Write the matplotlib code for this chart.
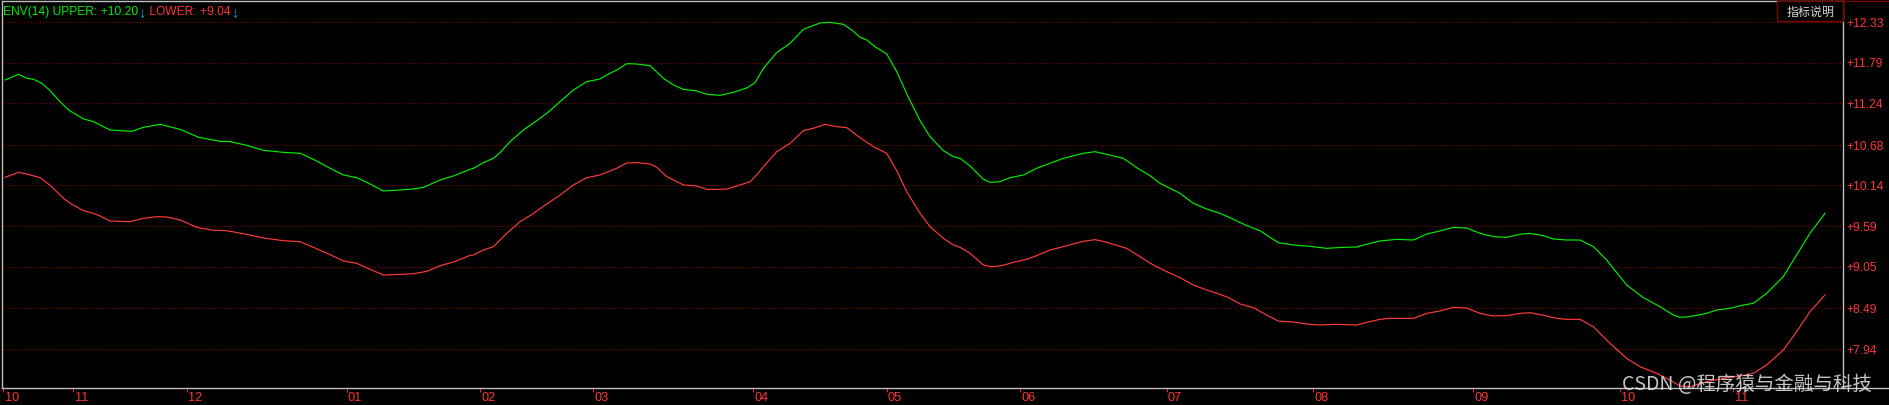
import matplotlib
matplotlib.use("Agg")
import matplotlib.pyplot as plt
from matplotlib.lines import Line2D
from matplotlib.patches import Rectangle
from matplotlib import font_manager
import matplotlib.transforms as mtransforms

# ---------------- data ----------------
upper_days = [0.75, 2.75, 4, 5, 6.25, 7.5, 8.75, 10.25, 12.5, 14, 15, 16.5, 19.75, 21.5, 24, 27,
              29.75, 33, 34.5, 37, 39.5, 42.5, 45, 47, 49.5, 51.5, 53.5, 55.5, 57.5, 60, 62, 63.5,
              66, 68, 70.5,
              71, 72.5, 74, 75, 76.5, 78.5, 80.5, 82, 84, 86, 88, 90, 91, 92.5, 94, 95.5, 97.5,
              99.5, 101, 102.5, 104.5, 106, 108, 110, 112, 113.25, 114.5, 116.5, 118.5, 120.5,
              123, 124.5, 126.5, 127.75, 129, 130, 131.25, 133, 134.5, 136.25, 138, 139.5,
              141.5, 143, 144, 145.5, 147.5, 148.5, 150, 151.5, 153.5, 155.5, 157.5, 159.5, 162.5,
              164.25, 166, 168.5, 170.5, 172.5, 174, 177, 179, 181, 183, 185, 187, 189, 191.75,
              194, 196.5, 199, 201.5, 203.5, 205.5, 207, 208.5,
              209.5, 212, 214, 216, 218, 220, 222, 224, 226, 228, 229.5, 231.5, 233, 235, 237,
              239, 241, 243, 244, 246.5, 249, 251, 252, 253.5, 256, 257.5, 259.5, 261.5, 263,
              265, 267.5, 269.5, 271.5, 273.75]
upper_vals = [11.556, 11.632, 11.578, 11.565, 11.511, 11.412, 11.287, 11.153, 11.032, 10.996,
              10.951, 10.884, 10.866, 10.920, 10.960, 10.893, 10.786, 10.732, 10.728, 10.678,
              10.611, 10.584, 10.571, 10.490, 10.370, 10.280, 10.244, 10.159, 10.065, 10.079,
              10.092, 10.114, 10.213, 10.267, 10.356,
              10.370, 10.446, 10.504, 10.580, 10.728, 10.884, 11.010, 11.108, 11.265, 11.421,
              11.533, 11.569, 11.623, 11.690, 11.775, 11.770, 11.748, 11.578, 11.489, 11.430,
              11.408, 11.363, 11.350, 11.390, 11.448, 11.520, 11.712, 11.923, 12.048, 12.236,
              12.321, 12.330, 12.303, 12.227, 12.129, 12.093, 12.003, 11.905, 11.668, 11.323,
              11.010, 10.795,
              10.607, 10.526, 10.504, 10.401, 10.222, 10.182, 10.190, 10.244, 10.280, 10.370,
              10.437, 10.504, 10.571, 10.593, 10.557, 10.504, 10.378, 10.271, 10.168, 10.034,
              9.900, 9.823, 9.765, 9.685, 9.600, 9.532, 9.371, 9.340, 9.322, 9.295, 9.309,
              9.313, 9.362, 9.394, 9.407,
              9.416, 9.407, 9.488, 9.528, 9.577, 9.568, 9.497, 9.452, 9.443, 9.483, 9.497,
              9.465, 9.421, 9.407, 9.407, 9.318, 9.139, 8.915, 8.803, 8.633, 8.512, 8.400,
              8.369, 8.378, 8.422, 8.467, 8.490, 8.534, 8.557, 8.691, 8.915, 9.206, 9.497, 9.765]

lower_days = [0.75, 2.75, 4, 6, 7.5, 9.5, 10.5, 12.5, 14, 15, 16.5, 19.5, 21.5, 23.5, 25, 27,
              29.5, 32, 34, 37, 39.5, 42.5, 45, 47, 49.5, 51.5, 53.5, 55.5, 57.5, 60, 62, 64,
              66, 68, 70.5,
              71, 72.5, 74, 76, 78, 80, 82, 84, 86, 88, 90, 92.5, 94, 95.5, 97.5, 98.5, 100,
              102.5, 104.5, 106, 108, 109, 110.5, 112.5, 113.5, 114.5, 116.5, 118.5, 120.5, 122,
              123.75, 125.5, 127, 129, 131, 133, 134.5, 136, 138, 139.5,
              141.5, 143, 144, 145.5, 147.5, 148.75, 150.25, 152, 154, 155.5, 157.5, 159.5,
              162.5, 164.25, 166, 169, 171, 173, 175, 177, 179, 181, 183, 184.5, 186, 188, 190,
              191.75, 194, 196, 198, 200.5, 203.5, 205.5, 207, 208.5,
              209.5, 212, 214, 216, 218, 220, 222, 224, 226, 228, 229.5, 231.5, 233.5, 235, 237,
              239, 241.5, 244, 246, 248.5, 250.5, 252, 253.5, 256, 258.5, 261, 263, 265, 267.5,
              269.5, 271.5, 273.75]
lower_vals = [10.249, 10.316, 10.293, 10.244, 10.141, 9.967, 9.900, 9.801, 9.765, 9.729, 9.662,
              9.653, 9.698, 9.720, 9.716, 9.676, 9.577, 9.537, 9.532, 9.483, 9.434, 9.398,
              9.385, 9.309, 9.210, 9.125, 9.094, 9.013, 8.937, 8.946, 8.955, 8.986, 9.062,
              9.112, 9.201,
              9.206, 9.273, 9.318, 9.497, 9.653, 9.765, 9.891, 10.011, 10.146, 10.244, 10.280,
              10.370, 10.441, 10.446, 10.428, 10.383, 10.258, 10.146, 10.132, 10.087, 10.087,
              10.092, 10.132, 10.190, 10.280, 10.392, 10.593, 10.705, 10.875, 10.907, 10.960,
              10.929, 10.916, 10.781, 10.660, 10.571, 10.338, 10.056, 9.765, 9.586,
              9.430, 9.340, 9.309, 9.228, 9.071, 9.049, 9.062, 9.107, 9.148, 9.197, 9.273,
              9.318, 9.389, 9.412, 9.376, 9.295, 9.183, 9.071, 8.982, 8.901, 8.803, 8.736,
              8.678, 8.624, 8.548, 8.498, 8.400, 8.319, 8.306, 8.279, 8.266, 8.275, 8.266,
              8.311, 8.342, 8.355,
              8.355, 8.355, 8.422, 8.454, 8.503, 8.494, 8.422, 8.387, 8.391, 8.422, 8.431,
              8.396, 8.355, 8.342, 8.342, 8.243, 8.020, 7.818, 7.706, 7.617, 7.527, 7.447,
              7.438, 7.505, 7.550, 7.581, 7.617, 7.729, 7.930, 8.176, 8.445, 8.669]

month_ticks = [0.5, 11, 28, 52, 72, 89, 113, 133, 153, 175, 197, 221, 243, 260]
month_labels = ["10", "11", "12", "01", "02", "03", "04", "05", "06", "07", "08", "09", "10", "11"]

price_ticks = [7.94, 8.49, 9.05, 9.59, 10.14, 10.68, 11.24, 11.79, 12.33]
price_labels = ["+7.94", "+8.49", "+9.05", "+9.59", "+10.14", "+10.68", "+11.24", "+11.79", "+12.33"]

indicator_name = "ENV(14)"
upper_label = "UPPER"
lower_label = "LOWER"
upper_last = "+10.20"
lower_last = "+9.04"
button_text = "指标说明"
watermark = "CSDN @程序猿与金融与科技"

# ---------------- style ----------------
plt.rcParams['font.family'] = ['Liberation Sans', 'Noto Sans CJK SC', 'DejaVu Sans']
GREEN = '#00ee00'
RED_LINE = '#ff3b3b'
RED_TXT = '#ff3434'
GRID = '#8c0000'
BORDER = '#c0c0c0'
CYAN = '#00aadd'
DARKRED = '#800000'
FS = 8.64  # 12 px

installed = {f.name for f in font_manager.fontManager.ttflist}
if 'Liberation Sans Narrow' in installed:
    XFAM, XFS = 'Liberation Sans Narrow', 10.5
else:
    XFAM, XFS = 'Liberation Sans', 9.2

W, H, DPI = 1889, 405, 100
fig = plt.figure(figsize=(W / DPI, H / DPI), dpi=DPI, facecolor='black')

ax_l, ax_r, ax_t, ax_b = 1.5, 1843.3, 1.3, 387.7
ax = fig.add_axes([ax_l / W, 1 - ax_b / H, (ax_r - ax_l) / W, (ax_b - ax_t) / H])
ax.set_facecolor('black')
ax.set_xlim(0.2, 276.5)
ax.set_ylim(7.424, 12.612)

for yv in price_ticks:
    ax.axhline(yv, color=GRID, lw=0.75, ls=(0, (1, 2)), zorder=1)

ax.plot(upper_days, upper_vals, color=GREEN, lw=0.85, zorder=3)
ax.plot(lower_days, lower_vals, color=RED_LINE, lw=0.85, zorder=3)

for s in ax.spines.values():
    s.set_color(BORDER)
    s.set_linewidth(1.0)

ax.yaxis.tick_right()
ax.set_yticks(price_ticks)
ax.set_yticklabels(price_labels)
ax.tick_params(axis='y', length=0, pad=2.5, labelcolor=RED_TXT, labelsize=FS)

ax.set_xticks(month_ticks)
ax.set_xticklabels(month_labels, ha='left', family=XFAM)
ax.tick_params(axis='x', length=3, width=0.6, color=RED_TXT, direction='out', pad=0.3,
               labelcolor=RED_TXT, labelsize=XFS)
offset = mtransforms.ScaledTranslation(1.2 / DPI, 0, fig.dpi_scale_trans)
for lab in ax.xaxis.get_majorticklabels():
    lab.set_transform(lab.get_transform() + offset)

# extensions of the frame outside the axes
fig.add_artist(Line2D([ax_r / W, 1.0], [1 - ax_b / H, 1 - ax_b / H], color=BORDER, lw=1.0,
                      transform=fig.transFigure))
fig.add_artist(Line2D([ax_r / W, 1.0], [1 - ax_t / H, 1 - ax_t / H], color=DARKRED, lw=1.0,
                      transform=fig.transFigure))

# button box top right
bx0, bx1, by0, by1 = 1777.3, 1843.3, 1.3, 21.3
fig.add_artist(Rectangle((bx0 / W, 1 - by1 / H), (bx1 - bx0) / W, (by1 - by0) / H,
                         transform=fig.transFigure, facecolor='black', edgecolor=DARKRED,
                         lw=1.0, zorder=5))
fig.text((bx0 + bx1) / 2 / W, 1 - 12.0 / H, button_text, ha='center', va='center',
         color='#d4d4d4', fontsize=FS, family=['Noto Sans CJK SC', 'DejaVu Sans'], zorder=6)

# legend line at top left, chained pieces
fig.canvas.draw()
renderer = fig.canvas.get_renderer()
pieces = [(f"{indicator_name} {upper_label}: {upper_last}", GREEN, FS),
          ("\u2193", CYAN, 10.5),
          (f" {lower_label}: {lower_last}", RED_TXT, FS),
          ("\u2193", CYAN, 10.5)]
xpx = 3.0
ycen = 1 - 11.8 / H
for txt, col, fs in pieces:
    t = fig.text(xpx / W, ycen, txt, ha='left', va='center', color=col, fontsize=fs,
                 family=['Liberation Sans', 'DejaVu Sans'], zorder=6)
    bb = t.get_window_extent(renderer)
    xpx = bb.x1 + 0.3

# watermark
fig.text(1872 / W, 1 - 385 / H, watermark, ha='right', va='center', fontsize=14,
         color='#e6e6e6', alpha=0.85, family=['Noto Sans CJK SC', 'DejaVu Sans'], zorder=10)

fig.savefig('out.png', dpi=DPI, facecolor='black')
